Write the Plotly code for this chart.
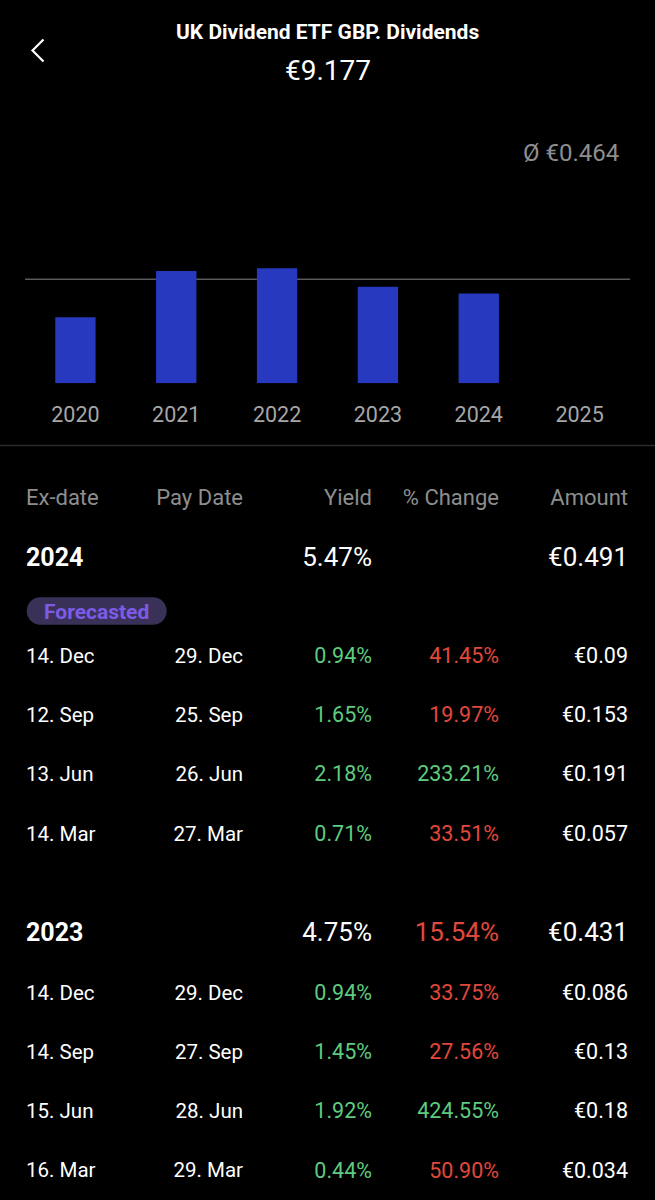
import plotly.graph_objects as go

# annual dividend totals (bar chart)
years = ["2020", "2021", "2022", "2023", "2024", "2025"]
annual_totals = [0.295, 0.501, 0.513, 0.431, 0.401, None]
average_dividend = 0.464
total_dividends = 9.177

# table, year 2024 (first row is forecasted)
year_2024 = "2024"
yield_2024 = 5.47
change_2024 = None
amount_2024 = 0.491
ex_dates_2024 = ["14. Dec", "12. Sep", "13. Jun", "14. Mar"]
pay_dates_2024 = ["29. Dec", "25. Sep", "26. Jun", "27. Mar"]
yields_2024 = [0.94, 1.65, 2.18, 0.71]
changes_2024 = [-41.45, -19.97, 233.21, -33.51]
amounts_2024 = [0.09, 0.153, 0.191, 0.057]

# table, year 2023
year_2023 = "2023"
yield_2023 = 4.75
change_2023 = -15.54
amount_2023 = 0.431
ex_dates_2023 = ["14. Dec", "14. Sep", "15. Jun", "16. Mar"]
pay_dates_2023 = ["29. Dec", "27. Sep", "28. Jun", "29. Mar"]
yields_2023 = [0.94, 1.45, 1.92, 0.44]
changes_2023 = [-33.75, -27.56, 424.55, -50.90]
amounts_2023 = [0.086, 0.13, 0.18, 0.034]

headers = ["Ex-date", "Pay Date", "Yield", "% Change", "Amount"]

W, H = 655, 1200
BG = "#000000"
BLUE = "#2639BF"
GREEN = "#5FCB7E"
RED = "#E0483C"
GREY = "#8E8E8E"
WHITE = "#FFFFFF"
FONT = "Roboto, 'Noto Sans', sans-serif"

# column anchors (px): ex-date left aligned, the rest right aligned
COL_EX, COL_PAY, COL_YIELD, COL_CHG, COL_AMT = 26, 243, 372, 499, 628
ROW_STEP = 59.3
TEXT_DY = 2.5  # text traces sit a touch high when centred


def fmt_amount(v):
    return f"€{v:g}"


def fmt_pct(v):
    return f"{abs(v):.2f}%"


def change_colour(v):
    return GREEN if v >= 0 else RED


fig = go.Figure()

# bars
bar_bottom_px, px_per_unit = 383.3, 1 / 0.004462
y_max = 0.6
fig.add_trace(go.Bar(
    x=years, y=annual_totals, marker_color=BLUE, marker_line_width=0,
    width=0.4, xaxis="x", yaxis="y", hoverinfo="skip",
))

# table text
sections = [
    (year_2024, yield_2024, change_2024, amount_2024, True,
     ex_dates_2024, pay_dates_2024, yields_2024, changes_2024, amounts_2024),
    (year_2023, yield_2023, change_2023, amount_2023, False,
     ex_dates_2023, pay_dates_2023, yields_2023, changes_2023, amounts_2023),
]

header_y = 497
cols = {k: dict(x=[], y=[], text=[], color=[], size=[], weight=[]) for k in
        ["ex", "pay", "yield", "chg", "amt"]}


def put(col, x, y, text, color, size, weight="normal"):
    c = cols[col]
    c["x"].append(x)
    c["y"].append(y + TEXT_DY)
    c["text"].append(text)
    c["color"].append(color)
    c["size"].append(size)
    c["weight"].append(weight)


for key, xpos, label in zip(["ex", "pay", "yield", "chg", "amt"],
                            [COL_EX, COL_PAY, COL_YIELD, COL_CHG, COL_AMT], headers):
    put(key, xpos, header_y, label, GREY, 22)

badge_y = None
y = 557
for (yr, yld, chg, amt, forecast, exd, payd, ylds, chgs, amts) in sections:
    put("ex", COL_EX, y, yr, WHITE, 25, "bold")
    put("yield", COL_YIELD, y, f"{yld:.2f}%", WHITE, 26)
    if chg is not None:
        put("chg", COL_CHG, y, fmt_pct(chg), change_colour(chg), 26)
    put("amt", COL_AMT, y, fmt_amount(amt), WHITE, 26)
    if forecast:
        badge_y = y + 54
        row_y = y + 98
    else:
        row_y = y + 60
    for i in range(len(exd)):
        ry = row_y + i * ROW_STEP
        put("ex", COL_EX, ry, exd[i], WHITE, 20.5)
        put("pay", COL_PAY, ry, payd[i], WHITE, 20.5)
        put("yield", COL_YIELD, ry, f"{ylds[i]:.2f}%", GREEN, 21.5)
        put("chg", COL_CHG, ry, fmt_pct(chgs[i]), change_colour(chgs[i]), 21.5)
        put("amt", COL_AMT, ry, fmt_amount(amts[i]), WHITE, 21.5)
    y = row_y + (len(exd) - 1) * ROW_STEP + 99

for key, c in cols.items():
    fig.add_trace(go.Scatter(
        x=c["x"], y=c["y"], text=c["text"], mode="text",
        textposition="middle right" if key == "ex" else "middle left",
        textfont=dict(color=c["color"], size=c["size"], family=FONT, weight=c["weight"]),
        xaxis="x2", yaxis="y2", hoverinfo="skip", cliponaxis=False,
    ))

shapes = [
    # average line behind the bars
    dict(type="line", xref="x domain", yref="y", x0=0, x1=1,
         y0=average_dividend, y1=average_dividend,
         line=dict(color="#5A5A5A", width=1.6), layer="below"),
    # divider under the chart
    dict(type="line", xref="x2", yref="y2", x0=0, x1=W, y0=445.5, y1=445.5,
         line=dict(color="#2B2B2B", width=1.5)),
    # back chevron
    dict(type="path", xref="x2", yref="y2",
         path="M 43.5,39.5 L 32.5,50.5 L 43.5,61.5",
         line=dict(color=WHITE, width=2.2)),
]

# forecasted pill
bx0, bx1, bh = 26.7, 166.7, 27.6
r = bh / 2
by0, by1 = badge_y - r, badge_y + r
k = 0.5523 * r
shapes.append(dict(
    type="path", xref="x2", yref="y2", fillcolor="#3A3159", line=dict(width=0),
    path=(f"M {bx0 + r},{by0} L {bx1 - r},{by0} "
          f"C {bx1 - r + k},{by0} {bx1},{badge_y - k} {bx1},{badge_y} "
          f"C {bx1},{badge_y + k} {bx1 - r + k},{by1} {bx1 - r},{by1} "
          f"L {bx0 + r},{by1} "
          f"C {bx0 + r - k},{by1} {bx0},{badge_y + k} {bx0},{badge_y} "
          f"C {bx0},{badge_y - k} {bx0 + r - k},{by0} {bx0 + r},{by0} Z"),
))

annotations = [
    dict(xref="x2", yref="y2", x=W / 2, y=32, text="<b>UK Dividend ETF GBP. Dividends</b>",
         showarrow=False, font=dict(color=WHITE, size=21, family=FONT)),
    dict(xref="x2", yref="y2", x=W / 2, y=70, text=f"€{total_dividends:.3f}",
         showarrow=False, font=dict(color=WHITE, size=28, family=FONT)),
    dict(xref="x2", yref="y2", x=621, y=153, text=f"Ø €{average_dividend:.3f}",
         xanchor="right", showarrow=False, font=dict(color=GREY, size=24, family=FONT)),
    dict(xref="x2", yref="y2", x=(bx0 + bx1) / 2, y=badge_y + 1, text="<b>Forecasted</b>",
         showarrow=False, font=dict(color="#7C5CE6", size=21, family=FONT)),
]

bar_dom0 = 1 - bar_bottom_px / H
bar_dom1 = 1 - (bar_bottom_px - y_max * px_per_unit) / H

fig.update_layout(
    width=W, height=H, margin=dict(l=0, r=0, t=0, b=0),
    paper_bgcolor=BG, plot_bgcolor="rgba(0,0,0,0)",
    showlegend=False, shapes=shapes, annotations=annotations,
    xaxis=dict(domain=[25 / W, 630 / W], type="category", range=[-0.5, 5.5],
               showgrid=False, zeroline=False, showline=False, ticks="",
               ticklabelstandoff=16,
               tickfont=dict(color="#A6A6A6", size=21.5, family=FONT), anchor="y"),
    yaxis=dict(domain=[bar_dom0, bar_dom1], range=[0, y_max], visible=False, anchor="x"),
    xaxis2=dict(domain=[0, 1], range=[0, W], visible=False, anchor="y2"),
    yaxis2=dict(domain=[0, 1], range=[H, 0], visible=False, anchor="x2"),
)

fig.write_html(
    "out.html",
    config={"displayModeBar": False},
    post_script="document.body.style.margin='0';document.body.style.background='#000';",
)
